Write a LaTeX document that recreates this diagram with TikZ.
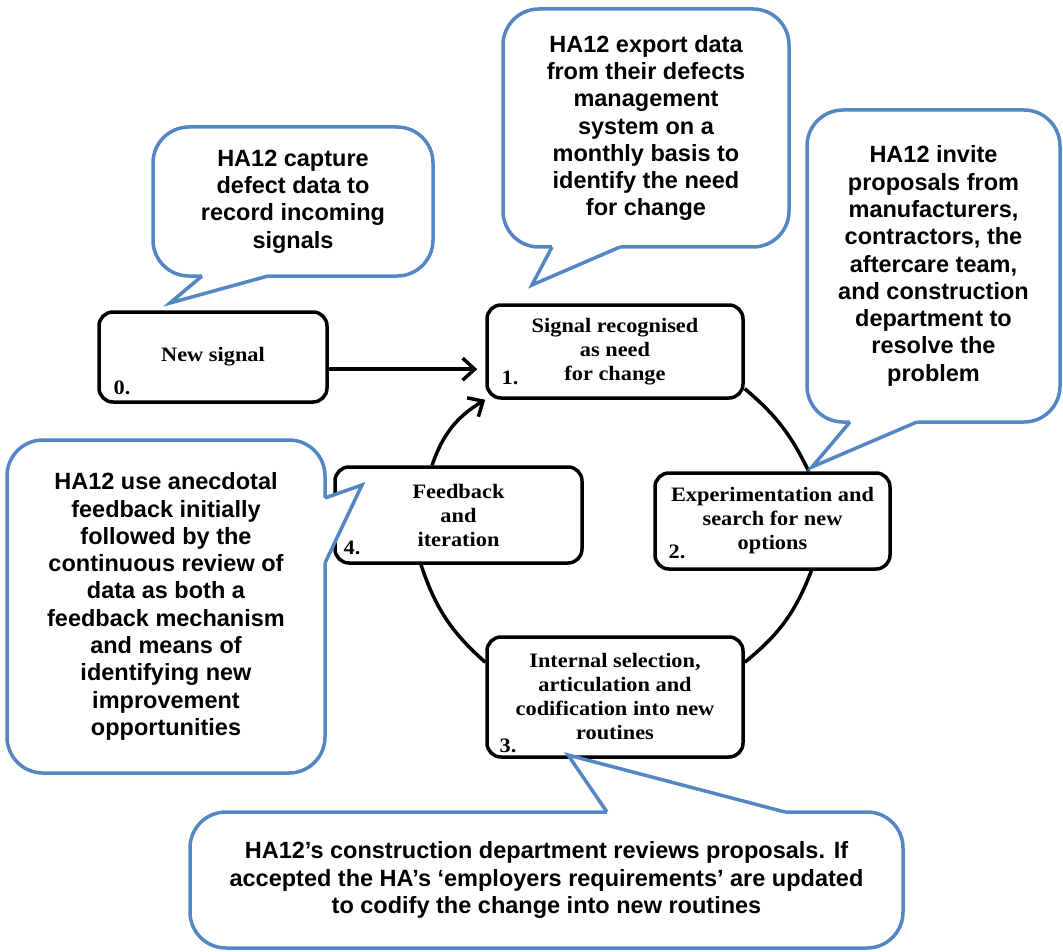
\documentclass[tikz,border=0pt]{standalone}
\usepackage{fontspec}
\setmainfont{Liberation Sans}
\newfontfamily\stagefont{Liberation Serif}[FakeStretch=1.09]
\usetikzlibrary{arrows.meta,calc}
\definecolor{calloutblue}{RGB}{84,134,196}
\begin{document}
\begin{tikzpicture}[x=1pt,y=-1pt,
  stage/.style={draw=black, line width=3.5pt, rounded corners=14pt, fill=white,
    align=center, inner sep=0pt,
    font=\stagefont\bfseries\fontsize{20.5}{24}\selectfont},
  stagenum/.style={inner sep=0pt, font=\stagefont\bfseries\fontsize{20.5}{24}\selectfont},
  ring/.style={draw=black, line width=3.5pt},
  flow/.style={draw=black, line width=3.5pt, -{Straight Barb[length=12pt,width=22pt]}},
  bubble/.style={draw=calloutblue, line width=3.5pt, rounded corners=36pt, fill=white,
    align=center, inner sep=0pt,
    font=\bfseries\fontsize{23.5}{27.3}\selectfont},
  tailfill/.style={fill=white},
  tailline/.style={draw=calloutblue, line width=3.5pt, line join=miter},
]
\useasboundingbox (0,0) rectangle (1063,952);
\fill[white] (0,0) rectangle (1063,952);

% ---- process stages ----
\node[stage, minimum width=228pt, minimum height=90pt] (b0) at (213,357) {New signal};
\node[stage, minimum width=256pt, minimum height=93pt] (b1) at (615,351.5)
  {Signal recognised\\as need\\for change};
\node[stage, minimum width=235pt, minimum height=96pt] (b2) at (772.5,521)
  {Experimentation and\\search for new\\options};
\node[stage, minimum width=256pt, minimum height=120pt] (b3) at (615,697)
  {Internal selection,\\articulation and\\codification into new\\routines};
\node[stage, minimum width=247pt, minimum height=96pt] (b4) at (458.5,515)
  {Feedback\\and\\iteration};

\node[stagenum] (n0) at (122,388) {0.};
\node[stagenum] (n1) at (510,378) {1.};
\node[stagenum] (n2) at (677,552) {2.};
\node[stagenum] (n3) at (508,746) {3.};
\node[stagenum] (n4) at (352,548) {4.};

% ---- connectors ----
\draw[flow, shorten >=8pt] (b0.-6.5) -- (b0.-6.5 -| b1.west);
\draw[ring] (b1.-16) to[bend left=12] (b2.54);
\draw[ring] (b2.-52) to[bend left=15] (b3.15);
\draw[ring] (b3.165) to[bend left=15] (b4.-127);
\draw[flow] (b4.118) to[bend left=20] (b1.south west);

% ---- callouts ----
% 0: capture of incoming signals
\node[bubble, minimum width=280pt, minimum height=149pt] (c0) at (293,201.5)
  {HA12 capture\\defect data to\\record incoming\\signals};
\coordinate (t0) at (170,303);
\fill[tailfill] (202,271) -- (202,276) -- (t0) -- (268,276) -- (268,271) -- cycle;
\draw[tailline] (202,276) -- (t0) -- (268,276);

% 1: monthly export
\node[bubble, minimum width=286pt, minimum height=238pt] (c1) at (646,128)
  {HA12 export data\\from their defects\\management\\system on a\\monthly basis to\\identify the need\\for change};
\coordinate (t1) at (532,285);
\fill[tailfill] (552,242) -- (552,247) -- (t1) -- (620,247) -- (620,242) -- cycle;
\draw[tailline] (552,247) -- (t1) -- (620,247);

% 2: proposals
\node[bubble, minimum width=253pt, minimum height=312pt] (c2) at (933.5,266)
  {HA12 invite\\proposals from\\manufacturers,\\contractors, the\\aftercare team,\\and construction\\department to\\resolve the\\problem};
\coordinate (t2) at (812,467);
\fill[tailfill] (850,417) -- (850,422) -- (t2) -- (917,422) -- (917,417) -- cycle;
\draw[tailline] (850,422) -- (t2) -- (917,422);

% 4: feedback
\node[bubble, minimum width=318pt, minimum height=333pt] (c4) at (166,606.5)
  {HA12 use anecdotal\\feedback initially\\followed by the\\continuous review of\\data as both a\\feedback mechanism\\and means of\\identifying new\\improvement\\opportunities};
\coordinate (t4) at (362,485);
\fill[tailfill] (320,498) -- (325,498) -- (t4) -- (325,563) -- (320,563) -- cycle;
\draw[tailline] (325,498) -- (t4) -- (325,563);

% 3: codification
\node[bubble, minimum width=713pt, minimum height=136pt] (c3) at (546.5,880)
  {HA12’s construction department reviews proposals. If\\accepted the HA’s ‘employers requirements’ are updated\\to codify the change into new routines};
\coordinate (t3) at (568,755);
\fill[tailfill] (607,817) -- (607,812) -- (t3) -- (785,812) -- (785,817) -- cycle;
\draw[tailline] (607,812) -- (t3) -- (785,812);
\end{tikzpicture}
\end{document}
